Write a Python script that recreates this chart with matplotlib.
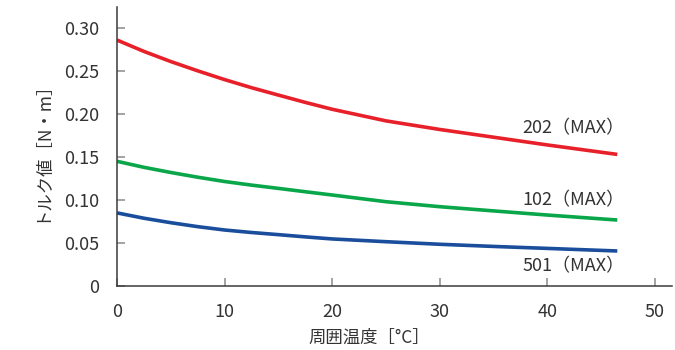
import matplotlib
matplotlib.use('Agg')
import matplotlib.pyplot as plt

plt.rcParams['font.family'] = ['Noto Sans CJK JP', 'DejaVu Sans']

# readings taken off the reference chart
temps = [0, 2.5, 5, 7.5, 10, 12.5, 15, 17.5, 20, 25, 30, 35, 40, 46.5]
torque_202 = [0.286, 0.2728, 0.261, 0.2502, 0.240, 0.2306, 0.222, 0.2135, 0.2055, 0.192, 0.182, 0.173, 0.164, 0.153]
torque_102 = [0.145, 0.138, 0.132, 0.1265, 0.1215, 0.1173, 0.1135, 0.1096, 0.1058, 0.098, 0.0922, 0.0873, 0.0825, 0.0767]
torque_501 = [0.085, 0.0788, 0.0736, 0.069, 0.0651, 0.0622, 0.0597, 0.0571, 0.0547, 0.0515, 0.0485, 0.046, 0.0437, 0.0407]

series = [
    ('202（MAX）', torque_202, '#e8202a', 0.1837),
    ('102（MAX）', torque_102, '#0aa64a', 0.100),
    ('501（MAX）', torque_501, '#1a4d9c', 0.0233),
]

xticks = [0, 10, 20, 30, 40, 50]
yticks = [0, 0.05, 0.10, 0.15, 0.20, 0.25, 0.30]
ytick_labels = ['0', '0.05', '0.10', '0.15', '0.20', '0.25', '0.30']

text_color = '#333333'

fig = plt.figure(figsize=(6.75, 3.5), dpi=100)
ax = fig.add_axes([0.1733, 0.1829, 0.8222, 0.7963])

for label, vals, color, label_y in series:
    ax.plot(temps, vals, color=color, lw=2.6, solid_capstyle='butt', solid_joinstyle='round', zorder=2)
    ax.text(47.2, label_y, label, ha='right', va='center', fontsize=13, color=text_color)

ax.set_xlim(0, 51.58)
ax.set_ylim(0, 0.3241)
ax.set_xticks(xticks)
ax.set_yticks(yticks)
ax.set_yticklabels(ytick_labels)

for side in ['top', 'right']:
    ax.spines[side].set_visible(False)
for side in ['left', 'bottom']:
    ax.spines[side].set_color('#3a3a3a')
    ax.spines[side].set_linewidth(1.1)
    ax.spines[side].set_zorder(3)

ax.tick_params(axis='both', direction='in', length=6, width=1.1, color='#8a8a8a',
               labelsize=13, labelcolor=text_color)
ax.tick_params(axis='y', pad=13)
ax.tick_params(axis='x', pad=12)

ax.set_xlabel('周囲温度［°C］', fontsize=12.5, color=text_color)
ax.xaxis.set_label_coords(0.454, -0.155)
ax.set_ylabel('トルク値［N・m］', fontsize=12.5, color=text_color)
ax.yaxis.set_label_coords(-0.121, 0.5)

fig.savefig('out.png', dpi=100)
